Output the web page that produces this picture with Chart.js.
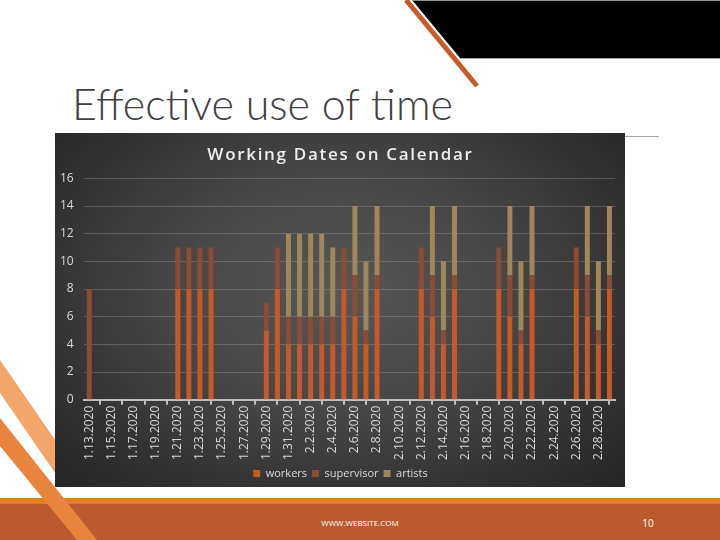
<!DOCTYPE html>
<html>
<head>
<meta charset="utf-8">
<script src="https://cdn.jsdelivr.net/npm/chart.js@4.4.1/dist/chart.umd.min.js"></script>
<style>
  html, body { margin:0; padding:0; }
  body { width:720px; height:540px; position:relative; overflow:hidden; background:#ffffff; font-family:"Open Sans", "Noto Sans", sans-serif; }
  #deco { position:absolute; left:0; top:0; }
  #slideTitle { position:absolute; left:72px; top:82px; font-family:"Lato","Open Sans",sans-serif; font-weight:300; font-size:43px; color:#404040; white-space:nowrap; line-height:1; transform-origin:0 0; }
  #chartBox { position:absolute; left:55px; top:133px; width:570px; height:354px;
     background: radial-gradient(ellipse 70% 80% at 50% 45%, #575757 0%, #454545 45%, #2c2c2c 85%, #262626 100%); }
  #footText { position:absolute; left:0; width:720px; top:517px; text-align:center; color:#ffffff; font-size:8px; font-family:"Open Sans",sans-serif; }
  #pageNum { position:absolute; left:638px; width:20px; top:516px; text-align:center; color:#ffffff; font-size:10px; font-family:"Open Sans",sans-serif; }
</style>
</head>
<body>
<svg id="deco" width="720" height="540" xmlns="http://www.w3.org/2000/svg">
  <polygon points="412,0 720,0 720,58 460,58" fill="#000000"/>
  <line x1="412" y1="0.5" x2="720" y2="0.5" stroke="#8c8c8c" stroke-width="1"/>
  <line x1="460" y1="58.5" x2="720" y2="58.5" stroke="#a0a0a0" stroke-width="1"/>
  <line x1="406" y1="0" x2="477" y2="86" stroke="#C8592A" stroke-width="5"/>
  <line x1="55" y1="136.5" x2="659" y2="136.5" stroke="#a6a6a6" stroke-width="1"/>
  <rect x="0" y="498" width="720" height="6" fill="#E3801C"/>
  <rect x="0" y="504" width="720" height="36" fill="#BD5A2D"/>
  <polygon points="0,360 60,447 60,480 0,393" fill="#F4A56A"/>
  <polygon points="0,418 97,540 77,540 0,446" fill="#E9843F"/>
</svg>
<div id="slideTitle">Effective use of time</div>
<div id="chartBox"><canvas id="c" width="570" height="354"></canvas></div>
<div id="footText">WWW.WEBSITE.COM</div>
<div id="pageNum">10</div>
<script>
const dates = [
  "1.13.2020","1.14.2020","1.15.2020","1.16.2020","1.17.2020","1.18.2020","1.19.2020","1.20.2020",
  "1.21.2020","1.22.2020","1.23.2020","1.24.2020","1.25.2020","1.26.2020","1.27.2020","1.28.2020",
  "1.29.2020","1.30.2020","1.31.2020","2.1.2020","2.2.2020","2.3.2020","2.4.2020","2.5.2020",
  "2.6.2020","2.7.2020","2.8.2020","2.9.2020","2.10.2020","2.11.2020","2.12.2020","2.13.2020",
  "2.14.2020","2.15.2020","2.16.2020","2.17.2020","2.18.2020","2.19.2020","2.20.2020","2.21.2020",
  "2.22.2020","2.23.2020","2.24.2020","2.25.2020","2.26.2020","2.27.2020","2.28.2020","2.29.2020"
];
const workers = [
  0,0,0,0,0,0,0,0, 8,8,8,8,0,0,0,0, 5,8,4,4,4,4,4,8, 6,4,8,0,0,0,8,6,
  4,8,0,0,0,8,6,4, 8,0,0,0,8,6,4,8
];
const supervisor = [
  8,0,0,0,0,0,0,0, 3,3,3,3,0,0,0,0, 2,3,2,2,2,2,2,3, 3,1,1,0,0,0,3,3,
  1,1,0,0,0,3,3,1, 1,0,0,0,3,3,1,1
];
const artists = [
  0,0,0,0,0,0,0,0, 0,0,0,0,0,0,0,0, 0,0,6,6,6,6,5,0, 5,5,5,0,0,0,0,5,
  5,5,0,0,0,0,5,5, 5,0,0,0,0,5,5,5
];
const yTicks = [0,2,4,6,8,10,12,14,16];

const txt = '#d9d9d9';
// nudges the title (letter-spaced) and legend so they centre on the whole chart box
const centerBoxes = {
  id: 'centerBoxes',
  beforeDraw(chart) {
    const t = chart.titleBlock;
    if (t && !t._patched) {
      const orig = t.draw.bind(t);
      t.draw = function() { const ctx = this.ctx; ctx.save(); ctx.letterSpacing = '1.7px'; ctx.translate(8, 0); orig(); ctx.restore(); };
      t._patched = true;
    }
    const l = chart.legend;
    if (l && !l._patched) {
      const origL = l.draw.bind(l);
      l.draw = function() { const ctx = this.ctx; ctx.save(); ctx.translate(8, 2); origL(); ctx.restore(); };
      l._patched = true;
    }
  }
};
new Chart(document.getElementById('c'), {
  type: 'bar',
  data: {
    labels: dates,
    datasets: [
      { label: 'workers', data: workers, backgroundColor: '#C55A28', borderWidth: 0 },
      { label: 'supervisor', data: supervisor, backgroundColor: '#8C4B35', borderWidth: 0 },
      { label: 'artists', data: artists, backgroundColor: '#9F875A', borderWidth: 0 }
    ]
  },
  plugins: [centerBoxes],
  options: {
    responsive: false,
    animation: false,
    layout: { padding: { left: -5, right: 10, top: 0, bottom: 0 } },
    datasets: { bar: { categoryPercentage: 0.9, barPercentage: 0.5 } },
    plugins: {
      title: { display: true, text: 'Working Dates on Calendar', color: '#eeeeee',
               font: { family: '"Open Sans", sans-serif', size: 17, weight: '600' },
               padding: { top: 12, bottom: 13 } },
      legend: { position: 'bottom',
                labels: { color: txt, boxWidth: 7, boxHeight: 7, padding: 5,
                          font: { family: '"Open Sans", sans-serif', size: 11 } } },
      tooltip: { enabled: false }
    },
    scales: {
      x: {
        stacked: true,
        grid: { display: true, drawOnChartArea: false, drawTicks: true, tickLength: 5, color: '#bfbfbf', lineWidth: 2, offset: true },
        border: { display: true, color: '#bfbfbf', width: 2 },
        ticks: { color: txt, autoSkip: false, maxRotation: 90, minRotation: 90, padding: 1,
                 font: { family: '"Open Sans", sans-serif', size: 12 },
                 callback: function(v, i) { return i % 2 === 0 ? dates[i] : null; } }
      },
      y: {
        stacked: true, min: 0, max: 16,
        afterBuildTicks: function(s) { s.ticks = yTicks.map(v => ({ value: v })); },
        grid: { color: 'rgba(160,160,160,0.35)', drawTicks: false, lineWidth: 1 },
        border: { display: false },
        ticks: { color: txt, padding: 10, font: { family: '"Open Sans", sans-serif', size: 12 } }
      }
    }
  }
});
</script>
</body>
</html>
